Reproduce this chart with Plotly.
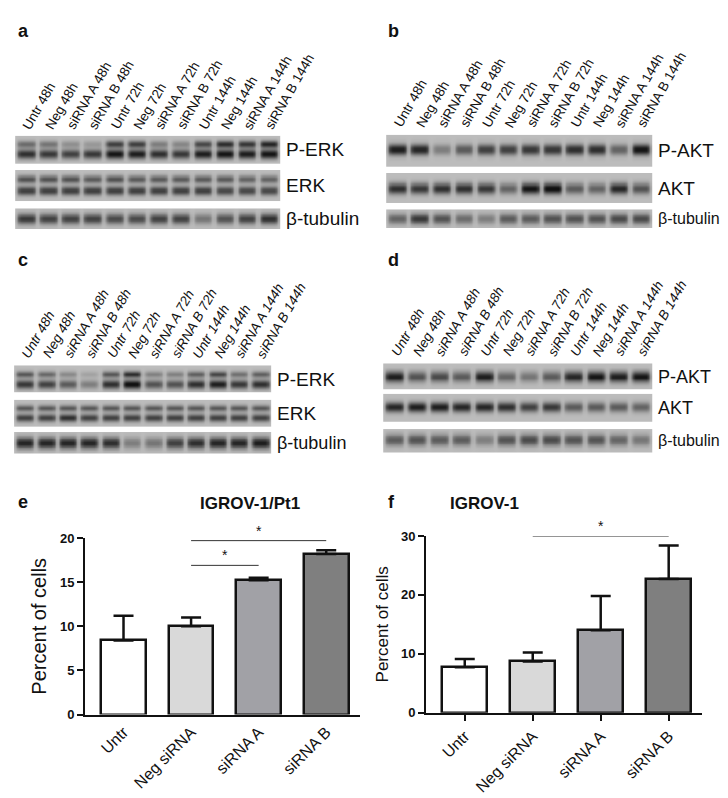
import numpy as np
import plotly.graph_objects as go

W, H = 728, 798

lanes = ["Untr 48h", "Neg 48h", "siRNA A 48h", "siRNA B 48h", "Untr 72h", "Neg 72h",
         "siRNA A 72h", "siRNA B 72h", "Untr 144h", "Neg 144h", "siRNA A 144h", "siRNA B 144h"]

# band intensities per lane (0..1), read by eye
a_perk_up = [0.45, 0.4, 0.25, 0.2, 0.7, 0.7, 0.35, 0.3, 0.65, 0.8, 0.75, 0.85]
a_perk_lo = [0.8, 0.75, 0.7, 0.75, 0.95, 0.9, 0.8, 0.75, 0.9, 0.95, 0.9, 0.95]
a_erk_up = [0.6, 0.6, 0.6, 0.55, 0.6, 0.55, 0.55, 0.55, 0.55, 0.55, 0.5, 0.5]
a_erk_lo = [0.7, 0.7, 0.7, 0.7, 0.7, 0.7, 0.7, 0.7, 0.7, 0.65, 0.65, 0.65]
a_tub = [0.75, 0.7, 0.7, 0.7, 0.65, 0.65, 0.7, 0.7, 0.4, 0.6, 0.7, 0.8]

b_pakt = [0.9, 0.85, 0.35, 0.55, 0.7, 0.7, 0.75, 0.75, 0.8, 0.8, 0.5, 0.95]
b_akt = [0.8, 0.75, 0.8, 0.8, 0.75, 0.5, 0.95, 1.0, 0.55, 0.5, 0.85, 0.6]
b_tub = [0.5, 0.75, 0.6, 0.45, 0.35, 0.55, 0.55, 0.6, 0.6, 0.6, 0.65, 0.65]

c_perk_up = [0.6, 0.5, 0.3, 0.15, 0.6, 0.85, 0.35, 0.35, 0.55, 0.7, 0.45, 0.55]
c_perk_lo = [0.75, 0.7, 0.55, 0.35, 0.8, 1.0, 0.6, 0.6, 0.8, 0.9, 0.75, 0.8]
c_erk_up = [0.6, 0.6, 0.6, 0.6, 0.6, 0.6, 0.6, 0.6, 0.6, 0.6, 0.6, 0.6]
c_erk_lo = [0.7, 0.7, 0.8, 0.7, 0.7, 0.7, 0.7, 0.7, 0.7, 0.7, 0.7, 0.7]
c_tub = [0.85, 0.85, 0.85, 0.85, 0.8, 0.35, 0.4, 0.7, 0.8, 0.85, 0.85, 0.9]

d_pakt = [0.9, 0.6, 0.65, 0.55, 0.9, 0.5, 0.4, 0.55, 0.85, 0.95, 0.9, 0.95]
d_akt = [0.85, 0.9, 0.9, 0.85, 0.85, 0.8, 0.7, 0.75, 0.55, 0.55, 0.55, 0.5]
d_tub = [0.55, 0.6, 0.55, 0.55, 0.35, 0.6, 0.65, 0.65, 0.6, 0.6, 0.5, 0.4]

groups = ["Untr", "Neg siRNA", "siRNA A", "siRNA B"]
bar_colors = ["#ffffff", "#d9d9d9", "#a1a1a6", "#7f7f7f"]
e_vals = [8.4, 10.0, 15.2, 18.2]
e_err = [2.8, 1.0, 0.3, 0.4]
f_vals = [7.7, 8.7, 14.0, 22.7]
f_err = [1.4, 1.5, 5.8, 5.7]

fig = go.Figure()
n_ax = [0]


def px_dom(x0, x1, y0, y1):
    return [x0 / W, x1 / W], [1 - y1 / H, 1 - y0 / H]


def new_axes(x0, x1, y0, y1, **kw):
    n_ax[0] += 1
    i = n_ax[0]
    sx = "" if i == 1 else str(i)
    xd, yd = px_dom(x0, x1, y0, y1)
    fig.layout["xaxis" + sx] = dict(domain=xd, anchor="y" + sx, **kw.get("x", dict(visible=False)))
    fig.layout["yaxis" + sx] = dict(domain=yd, anchor="x" + sx, **kw.get("y", dict(visible=False)))
    return "x" + sx, "y" + sx


def strip(x0, x1, y0, y1, bands, label, bg=0.82, size=19):
    # bands: list of (intensities, vertical centre 0..1, width)
    xa, ya = new_axes(x0, x1, y0, y1)
    nx, ny = 12 * 10, 30
    xs = (np.arange(nx) + 0.5) / 10 - 0.5
    ys = np.linspace(0, 1, ny)
    z = np.full((ny, nx), bg)
    for vals, yc, wd in bands:
        v = np.array(vals)
        lane = np.clip(np.round(xs).astype(int), 0, 11)
        hx = np.exp(-((xs - lane) / 0.42) ** 8)
        vy = np.exp(-((ys - yc) / wd) ** 2)
        z -= np.outer(vy, v[lane] * hx) * 0.85
    z = np.clip(z, 0, 1)
    fig.add_trace(go.Heatmap(x=xs, y=ys, z=z, xaxis=xa, yaxis=ya, zmin=0, zmax=1,
                             colorscale=[[0, "#111111"], [1, "#e2e2e2"]], showscale=False,
                             zsmooth="best", hoverinfo="skip"))
    fig.layout[xa.replace("x", "xaxis")].update(range=[-0.6, 11.6])
    fig.layout[ya.replace("y", "yaxis")].update(range=[0, 1])
    fig.add_annotation(text=label, x=x1 / W, y=1 - (y0 + y1) / 2 / H, xref="paper", yref="paper",
                       xanchor="left", yanchor="middle", xshift=2, showarrow=False,
                       font=dict(size=size, color="#111"))
    return xa


def lane_labels(x0, x1, ybottom, italic=False):
    step = (x1 - x0) / 12.2
    for i, t in enumerate(lanes):
        xp = x0 + (i + 0.5 + 0.1) * step
        fig.add_annotation(text="<i>%s</i>" % t if italic else t, x=xp / W, y=1 - ybottom / H,
                           xref="paper", yref="paper", textangle=-60, xanchor="left", yanchor="bottom",
                           showarrow=False, font=dict(size=13.5, color="#111"), xshift=-9)


def panel_letter(t, x, y):
    fig.add_annotation(text="<b>%s</b>" % t, x=x / W, y=1 - y / H, xref="paper", yref="paper",
                       showarrow=False, font=dict(size=18, color="#111"), xanchor="left", yanchor="middle")


# panel a
panel_letter("a", 8, 16)
lane_labels(5, 274, 122)
strip(5, 274, 123, 152, [(a_perk_up, 0.72, 0.12), (a_perk_lo, 0.38, 0.16)], "P-ERK")
strip(5, 274, 158, 190, [(a_erk_up, 0.72, 0.12), (a_erk_lo, 0.35, 0.14)], "ERK")
strip(5, 274, 197, 218, [(a_tub, 0.5, 0.25)], "β-tubulin")

# panel b
panel_letter("b", 378, 16)
lane_labels(376, 646, 120)
strip(376, 646, 122, 155, [(b_pakt, 0.55, 0.17)], "P-AKT")
strip(376, 646, 161, 192, [(b_akt, 0.5, 0.18)], "AKT")
strip(376, 646, 198, 217, [(b_tub, 0.5, 0.28)], "β-tubulin", size=16)

# panel c
panel_letter("c", 8, 250)
lane_labels(4, 265, 355, italic=True)
strip(4, 265, 357, 385, [(c_perk_up, 0.68, 0.12), (c_perk_lo, 0.32, 0.15)], "P-ERK")
strip(4, 265, 392, 420, [(c_erk_up, 0.7, 0.12), (c_erk_lo, 0.35, 0.13)], "ERK")
strip(4, 265, 425, 447, [(c_tub, 0.5, 0.26)], "β-tubulin", size=18)

# panel d
panel_letter("d", 378, 250)
lane_labels(373, 646, 353, italic=True)
strip(373, 646, 355, 382, [(d_pakt, 0.5, 0.2)], "P-AKT", size=18)
strip(373, 646, 386, 415, [(d_akt, 0.55, 0.17)], "AKT", size=18)
strip(373, 646, 422, 446, [(d_tub, 0.55, 0.24)], "β-tubulin", size=16)


def bar_panel(x0, x1, y0, y1, xmax, vals, errs, ymax, dtick, title, tx, letter, lx, ticks_x, sig, ytitle_size):
    xa, ya = new_axes(
        x0, x1, y0, y1,
        x=dict(range=[-0.57, xmax], showline=True, linecolor="#111", linewidth=2,
               tickvals=list(range(4)), ticktext=groups, tickangle=-45,
               ticks="outside" if ticks_x else "", ticklen=6, tickwidth=2, tickcolor="#111",
               tickfont=dict(size=16, color="#111"), showgrid=False, zeroline=False),
        y=dict(range=[0, ymax], showline=True, linecolor="#111", linewidth=2, dtick=dtick,
               ticks="outside", ticklen=6, tickwidth=2, tickcolor="#111", showgrid=False, zeroline=False,
               tickfont=dict(size=13, color="#111", family="Liberation Sans Narrow, Arial"),
               tickprefix="<b>", ticksuffix="</b>",
               title=dict(text="Percent of cells", font=dict(size=ytitle_size, color="#111"), standoff=8)))
    fig.add_trace(go.Bar(x=list(range(4)), y=vals, xaxis=xa, yaxis=ya, width=0.66,
                         marker=dict(color=bar_colors, line=dict(color="#111", width=2.5)),
                         error_y=dict(type="data", array=errs, arrayminus=[0] * 4, color="#111",
                                      thickness=2.5, width=10), showlegend=False))
    for a, b, yv in sig:
        fig.add_shape(type="line", xref=xa, yref=ya, x0=a, x1=b, y0=yv, y1=yv,
                      line=dict(color="#333", width=1))
        fig.add_annotation(text="*", x=(a + b) / 2, y=yv, xref=xa, yref=ya, yanchor="bottom",
                           showarrow=False, font=dict(size=14, color="#111"))
    fig.add_annotation(text="<b>%s</b>" % title, x=tx / W, y=1 - 498 / H, xref="paper", yref="paper",
                       showarrow=False, font=dict(size=17, color="#111"), yanchor="middle")
    panel_letter(letter, lx, 496)


bar_panel(77, 352, 533, 713, 3.5, e_vals, e_err, 20, 5, "IGROV-1/Pt1", 190, "e", 8, False,
          [(1, 2, 16.9), (1, 3, 19.7)], 20)
bar_panel(418, 694, 531, 711, 3.49, f_vals, f_err, 30, 10, "IGROV-1", 476, "f", 378, True,
          [(1, 3, 30.0)], 17)

fig.update_layout(width=W, height=H, margin=dict(l=0, r=0, t=0, b=0), plot_bgcolor="white",
                  paper_bgcolor="white", font=dict(family="Liberation Sans, Arial"), bargap=0)
fig.write_html("out.html")
